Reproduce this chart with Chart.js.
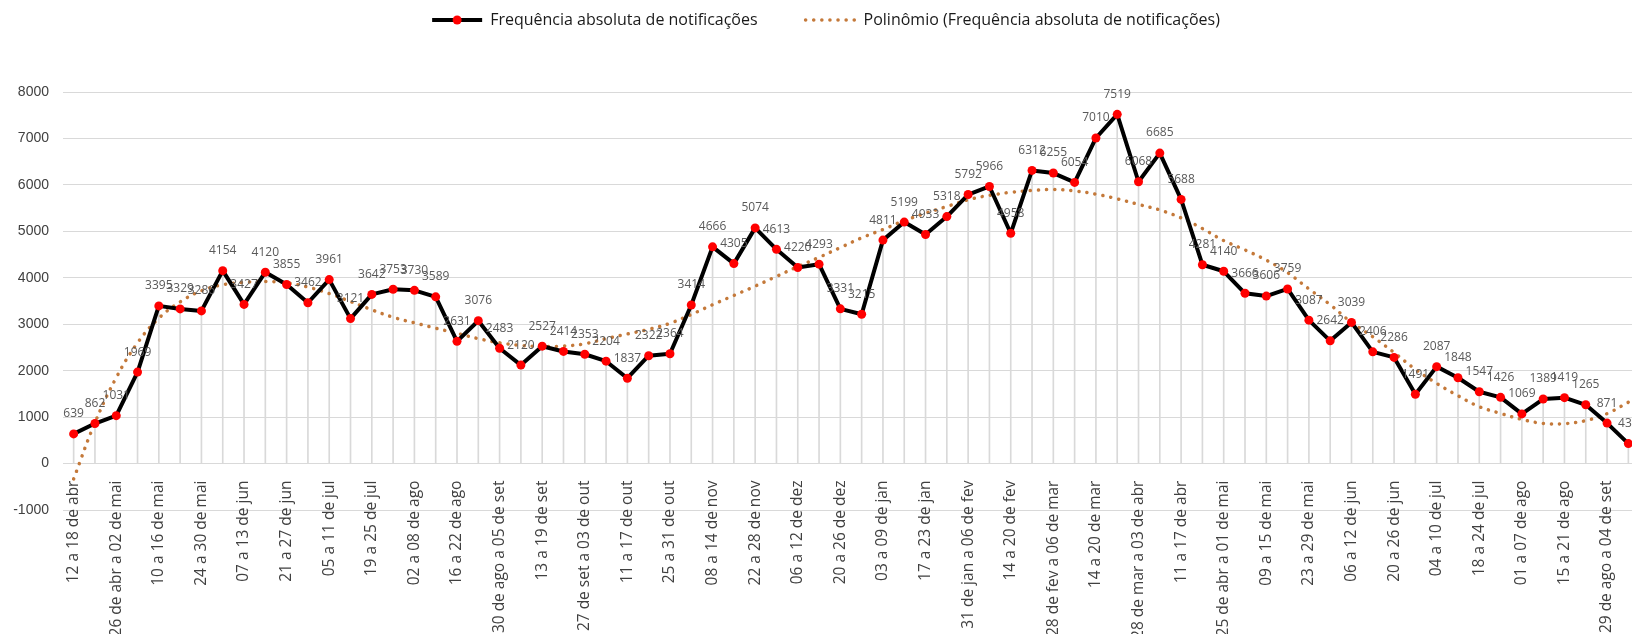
<!DOCTYPE html>
<html>
<head>
<meta charset="utf-8">
<script src="https://cdn.jsdelivr.net/npm/chart.js@4.4.1/dist/chart.umd.min.js"></script>
<style>
  html, body { margin: 0; padding: 0; background: #fff; overflow: hidden; }
  #wrap { width: 1632px; height: 634px; overflow: hidden; }
</style>
</head>
<body>
<div id="wrap"><canvas id="chart" width="1650" height="634"></canvas></div>
<script>
// semanas epidemiologicas
const weeks = [
  `12 a 18 de abr`, `19 a 25 de abr`, `26 de abr a 02 de mai`, `03 a 09 de mai`, `10 a 16 de mai`,
  `17 a 23 de mai`, `24 a 30 de mai`, `31 de mai a 06 de jun`, `07 a 13 de jun`, `14 a 20 de jun`,
  `21 a 27 de jun`, `28 de jun a 04 de jul`, `05 a 11 de jul`, `12 a 18 de jul`, `19 a 25 de jul`,
  `26 de jul a 01 de ago`, `02 a 08 de ago`, `09 a 15 de ago`, `16 a 22 de ago`, `23 a 29 de ago`,
  `30 de ago a 05 de set`, `06 a 12 de set`, `13 a 19 de set`, `20 a 26 de set`, `27 de set a 03 de out`,
  `04 a 10 de out`, `11 a 17 de out`, `18 a 24 de out`, `25 a 31 de out`, `01 a 07 de nov`,
  `08 a 14 de nov`, `15 a 21 de nov`, `22 a 28 de nov`, `29 de nov a 05 de dez`, `06 a 12 de dez`,
  `13 a 19 de dez`, `20 a 26 de dez`, `27 de dez a 02 de jan`, `03 a 09 de jan`, `10 a 16 de jan`,
  `17 a 23 de jan`, `24 a 30 de jan`, `31 de jan a 06 de fev`, `07 a 13 de fev`, `14 a 20 de fev`,
  `21 a 27 de fev`, `28 de fev a 06 de mar`, `07 a 13 de mar`, `14 a 20 de mar`, `21 a 27 de mar`,
  `28 de mar a 03 de abr`, `04 a 10 de abr`, `11 a 17 de abr`, `18 a 24 de abr`, `25 de abr a 01 de mai`,
  `02 a 08 de mai`, `09 a 15 de mai`, `16 a 22 de mai`, `23 a 29 de mai`, `30 de mai a 05 de jun`,
  `06 a 12 de jun`, `13 a 19 de jun`, `20 a 26 de jun`, `27 de jun a 03 de jul`, `04 a 10 de jul`,
  `11 a 17 de jul`, `18 a 24 de jul`, `25 a 31 de jul`, `01 a 07 de ago`, `08 a 14 de ago`,
  `15 a 21 de ago`, `22 a 28 de ago`, `29 de ago a 04 de set`, `05 a 11 de set`
]

// frequencia absoluta de notificacoes
const notificacoes = [
  639, 862, 1031, 1969, 3395, 3329, 3286, 4154, 3427, 4120,
  3855, 3462, 3961, 3121, 3642, 3753, 3730, 3589, 2631, 3076,
  2483, 2120, 2527, 2414, 2353, 2204, 1837, 2322, 2364, 3414,
  4666, 4305, 5074, 4613, 4220, 4293, 3331, 3215, 4811, 5199,
  4933, 5318, 5792, 5966, 4958, 6312, 6255, 6054, 7010, 7519,
  6068, 6685, 5688, 4281, 4140, 3666, 3606, 3759, 3087, 2642,
  3039, 2406, 2286, 1491, 2087, 1848, 1547, 1426, 1069, 1389,
  1419, 1265, 871, 430
]

// linha de tendencia
const polinomio = [
  -330, 880, 1850, 2600, 3130, 3480, 3720, 3850, 3900, 3920,
  3890, 3800, 3660, 3490, 3310, 3150, 3030, 2915, 2805, 2690,
  2600, 2545, 2520, 2530, 2580, 2690, 2790, 2890, 3020, 3210,
  3420, 3620, 3820, 4030, 4240, 4440, 4650, 4860, 5040, 5230,
  5390, 5535, 5680, 5775, 5840, 5880, 5900, 5870, 5800, 5700,
  5580, 5460, 5290, 5060, 4800, 4600, 4380, 4110, 3760, 3420,
  3040, 2730, 2390, 2030, 1725, 1460, 1225, 1080, 950, 865,
  860, 925, 1075, 1320
]

const yMin = -1000
const yMax = 8000
const yStep = 1000

Chart.defaults.font.family = `'Open Sans', sans-serif`

// extra room under the legend
const legendSpace = {
  id: `legendSpace`,
  beforeInit(chart) {
    const fit = chart.legend.fit
    chart.legend.fit = function () {
      fit.call(this)
      this.height = 128
    }
  }
}

// red marker in the middle of the first legend sample
const legendMarker = {
  id: `legendMarker`,
  afterDraw(chart) {
    const box = chart.legend.legendHitBoxes[0]
    if (!box) return
    const ctx = chart.ctx
    ctx.save()
    ctx.fillStyle = `#ff0000`
    ctx.beginPath()
    ctx.arc(box.left + 25, box.top + 8, 4.5, 0, Math.PI * 2)
    ctx.fill()
    ctx.restore()
  }
}

// value labels above each point
const valueLabels = {
  id: `valueLabels`,
  afterDatasetsDraw(chart) {
    const ctx = chart.ctx
    const meta = chart.getDatasetMeta(0)
    ctx.save()
    ctx.font = `12px 'Open Sans'`
    ctx.fillStyle = `#595959`
    ctx.textAlign = `center`
    ctx.textBaseline = `middle`
    meta.data.forEach((pt, i) => ctx.fillText(String(notificacoes[i]), pt.x, pt.y - 20))
    ctx.restore()
  }
}

new Chart(document.querySelector(`#chart`).getContext(`2d`), {
  type: `line`,
  data: {
    labels: weeks,
    datasets: [{
        label: `Frequência absoluta de notificações`,
        data: notificacoes,
        borderColor: `#000000`,
        backgroundColor: `#ff0000`,
        borderWidth: 4,
        borderJoinStyle: `round`,
        pointRadius: 4.5,
        pointBackgroundColor: `#ff0000`,
        pointBorderWidth: 0,
        tension: 0,
        fill: false,
        order: 0
      }, {
        label: `Polinômio (Frequência absoluta de notificações)`,
        data: polinomio,
        borderColor: `#c4793a`,
        backgroundColor: `#c4793a`,
        borderWidth: 3.5,
        borderDash: [0.1, 8],
        borderCapStyle: `round`,
        pointRadius: 0,
        tension: 0.4,
        fill: false,
        order: 1
      }, {
        // drop lines
        type: `bar`,
        label: `drop`,
        data: notificacoes,
        backgroundColor: `#d9d9d9`,
        barThickness: 1,
        borderWidth: 0,
        order: 2
      }
    ]
  },
  options: {
    responsive: false,
    animation: false,
    devicePixelRatio: 1,
    layout: { padding: { top: -36, left: 13, right: 11, bottom: 124 } },
    plugins: {
      tooltip: { enabled: false },
      legend: {
        position: `top`,
        labels: {
          usePointStyle: true,
          pointStyleWidth: 50,
          padding: 48,
          color: `#1a1a1a`,
          font: { family: `'Open Sans'`, size: 16 },
          filter: item => item.datasetIndex < 2,
          generateLabels(chart) {
            const items = Chart.defaults.plugins.legend.labels.generateLabels(chart)
            items.forEach(it => {
              const ds = chart.data.datasets[it.datasetIndex]
              it.pointStyle = `line`
              it.lineWidth = ds.borderWidth
              it.strokeStyle = ds.borderColor
              it.lineDash = ds.borderDash || []
              it.lineCap = ds.borderCapStyle || `butt`
            })
            return items
          }
        }
      }
    },
    scales: {
      x: {
        position: { y: 0 },
        offset: true,
        grid: { display: false },
        border: { display: false },
        afterFit: scale => {
          scale.paddingLeft = 0
          scale.paddingRight = 0
        },
        ticks: {
          autoSkip: false,
          minRotation: 90,
          maxRotation: 90,
          padding: 9,
          color: `#404040`,
          font: { family: `'Open Sans'`, size: 15.5 },
          callback: (v, i) => i % 2 === 0 ? weeks[i] : ``
        }
      },
      y: {
        min: yMin,
        max: yMax,
        grid: { color: `#d9d9d9`, drawTicks: false },
        border: { display: false },
        afterFit: scale => { scale.width = 50 },
        ticks: {
          stepSize: yStep,
          padding: 14,
          color: `#404040`,
          font: { family: `'Liberation Sans'`, size: 14 },
          callback: v => String(v)
        }
      }
    }
  },
  plugins: [legendSpace, legendMarker, valueLabels]
})
</script>
</body>
</html>
